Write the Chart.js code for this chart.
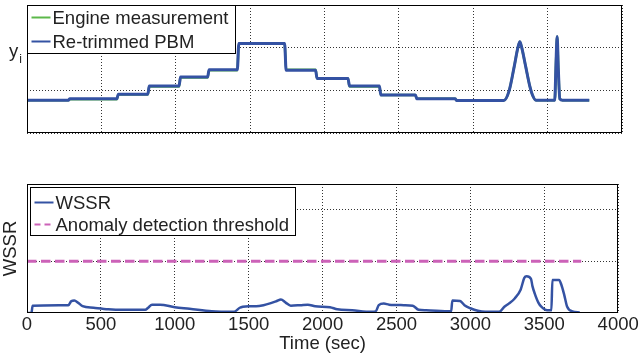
<!DOCTYPE html>
<html>
<head>
<meta charset="utf-8">
<script src="https://cdn.jsdelivr.net/npm/chart.js@4/dist/chart.umd.min.js"></script>
<style>
  html, body { margin: 0; padding: 0; background: #fff; }
  #wrap { position: relative; width: 642px; height: 358px; overflow: hidden; }
  canvas { position: absolute; left: 0; }
  #topChart { top: 0; }
  #bottomChart { top: 170px; }
</style>
</head>
<body>
<div id="wrap">
  <canvas id="topChart" width="642" height="150"></canvas>
  <canvas id="bottomChart" width="642" height="188"></canvas>
</div>
<script>
// time axis ticks (sec)
const timeTicks = [0, 500, 1000, 1500, 2000, 2500, 3000, 3500, 4000];

// top panel: output y_i, steps plus two transients near the end
const outTime = [0, 278, 288, 604, 614, 812, 822, 1022, 1032, 1214, 1224, 1414, 1424, 1732, 1742,
  1940, 1950, 2158, 2168, 2369, 2379, 2611, 2621, 2879, 2889, 3205, 3242, 3275, 3300, 3313, 3326,
  3353, 3380, 3398, 3421, 3548, 3556, 3564, 3572, 3582, 3600, 3780];
const engineValues = [0.77, 0.77, 0.79, 0.79, 0.90, 0.90, 1.09, 1.09, 1.30, 1.30, 1.47, 1.47, 2.10, 2.10,
  1.48, 1.48, 1.28, 1.28, 1.09, 1.09, 0.89, 0.89, 0.80, 0.80, 0.76, 0.76, 1.00, 1.55, 2.00, 2.14, 2.00,
  1.55, 1.10, 0.89, 0.77, 0.77, 1.60, 2.26, 1.50, 0.80, 0.77, 0.77];
const pbmValues = [0.77, 0.77, 0.80, 0.80, 0.91, 0.91, 1.10, 1.10, 1.31, 1.31, 1.48, 1.48, 2.10, 2.10,
  1.47, 1.47, 1.28, 1.28, 1.10, 1.10, 0.89, 0.89, 0.80, 0.80, 0.76, 0.76, 1.00, 1.55, 2.00, 2.14, 2.00,
  1.55, 1.10, 0.89, 0.77, 0.77, 1.60, 2.26, 1.50, 0.80, 0.77, 0.77];

// bottom panel: weighted sum of squared residuals
const wssrTime = [0, 30, 38, 280, 300, 320, 345, 376, 450, 550, 650, 800, 820, 846, 900, 1000, 1100,
  1250, 1400, 1440, 1460, 1500, 1550, 1600, 1650, 1690, 1718, 1750, 1785, 1850, 1900, 1950, 2050,
  2100, 2200, 2330, 2360, 2380, 2414, 2450, 2550, 2610, 2650, 2700, 2870, 2878, 2930, 2960, 3000,
  3050, 3100, 3195, 3230, 3260, 3300, 3340, 3365, 3380, 3410, 3420, 3435, 3460, 3480, 3520, 3548,
  3555, 3600, 3615, 3635, 3655, 3690, 3740];
const wssrValues = [0, 0, 0.14, 0.15, 0.23, 0.24, 0.20, 0.13, 0.10, 0.07, 0.06, 0.06, 0.10, 0.16, 0.16,
  0.11, 0.08, 0.03, 0.02, 0.10, 0.12, 0.13, 0.13, 0.15, 0.19, 0.23, 0.26, 0.20, 0.14, 0.15, 0.16, 0.13,
  0.11, 0.07, 0.05, 0.02, 0.03, 0.15, 0.18, 0.16, 0.15, 0.14, 0.06, 0.05, 0.03, 0.24, 0.23, 0.15, 0.09,
  0.04, 0.02, 0.02, 0.12, 0.18, 0.28, 0.45, 0.68, 0.71, 0.66, 0.52, 0.38, 0.20, 0.12, 0.05, 0.05,
  0.64, 0.64, 0.55, 0.35, 0.12, 0.03, 0.01];
const thresholdTime = [0, 3750];
const thresholdValues = [1, 1];

const FONT = '"Liberation Sans", Arial, Helvetica, sans-serif';
const TEXT = '#222';
Chart.defaults.font.family = FONT;
Chart.defaults.color = TEXT;

const pts = (xs, ys) => xs.map((x, i) => ({ x: x, y: ys[i] }));

// boxed legend in the upper-left corner of the plot, plus the black frame round the plot
const frameLegend = {
  id: 'frameLegend',
  afterDraw(chart, args, opts) {
    const ctx = chart.ctx;
    const a = chart.chartArea;
    ctx.save();
    ctx.strokeStyle = '#000';
    ctx.lineWidth = 1;
    ctx.setLineDash([]);
    ctx.strokeRect(Math.round(a.left) + 0.5, Math.round(a.top) + 0.5,
      Math.round(a.right - a.left) - 1, Math.round(a.bottom - a.top) - 1);

    const bx = Math.round(a.left + opts.dx) + 0.5;
    const by = Math.round(a.top + opts.dy) + 0.5;
    ctx.fillStyle = '#fff';
    ctx.fillRect(bx, by, opts.w, opts.h);
    ctx.strokeRect(bx, by, opts.w, opts.h);

    ctx.font = '18.5px ' + FONT;
    ctx.textBaseline = 'middle';
    ctx.textAlign = 'left';
    chart.data.datasets.forEach((ds, i) => {
      const y = by + opts.rows[i];
      ctx.strokeStyle = ds.borderColor;
      ctx.lineWidth = 2;
      ctx.setLineDash(ds.legendDash || []);
      ctx.beginPath();
      ctx.moveTo(bx + 4, y);
      ctx.lineTo(bx + 23, y);
      ctx.stroke();
      ctx.fillStyle = TEXT;
      ctx.fillText(ds.label, bx + 25, y + 1);
    });
    ctx.restore();
  }
};

// horizontal y-axis label with subscript
const subLabel = {
  id: 'subLabel',
  afterDraw(chart, args, opts) {
    if (!opts.text) return;
    const ctx = chart.ctx;
    ctx.save();
    ctx.fillStyle = TEXT;
    ctx.textBaseline = 'alphabetic';
    ctx.font = '18.5px ' + FONT;
    ctx.fillText(opts.text, opts.x, opts.y);
    const w = ctx.measureText(opts.text).width;
    ctx.font = '12px ' + FONT;
    ctx.fillText(opts.sub, opts.x + w + 1, opts.y + 6);
    ctx.restore();
  }
};

const dotted = { display: false, dash: [1, 2] };
const gridOpts = { color: '#333', lineWidth: 1, drawTicks: false };

new Chart(document.getElementById('topChart'), {
  type: 'line',
  data: {
    datasets: [
      {
        label: 'Engine measurement',
        data: pts(outTime, engineValues),
        borderColor: '#5cb84a',
        borderWidth: 2.5,
        pointRadius: 0,
        order: 2,
        cubicInterpolationMode: 'monotone'
      },
      {
        label: 'Re-trimmed PBM',
        data: pts(outTime, pbmValues),
        borderColor: '#3452a3',
        borderWidth: 3,
        pointRadius: 0,
        order: 1,
        cubicInterpolationMode: 'monotone'
      }
    ]
  },
  options: {
    responsive: false,
    animation: false,
    layout: { padding: { left: 27, right: 20, top: 5, bottom: 17 } },
    plugins: {
      legend: { display: false },
      tooltip: { enabled: false },
      frameLegend: { dx: 0, dy: 0, w: 208, h: 48, rows: [12, 36] },
      subLabel: { text: 'y', sub: 'i', x: 9, y: 57 }
    },
    scales: {
      x: {
        type: 'linear', min: 0, max: 4000,
        afterBuildTicks: (s) => { s.ticks = timeTicks.map(v => ({ value: v })); },
        ticks: { display: false },
        grid: gridOpts,
        border: dotted
      },
      y: {
        min: 0, max: 3,
        ticks: { display: false, stepSize: 1 },
        grid: gridOpts,
        border: dotted
      }
    }
  },
  plugins: [frameLegend, subLabel]
});

new Chart(document.getElementById('bottomChart'), {
  type: 'line',
  data: {
    datasets: [
      {
        label: 'WSSR',
        data: pts(wssrTime, wssrValues),
        borderColor: '#3452a3',
        borderWidth: 2.5,
        pointRadius: 0,
        cubicInterpolationMode: 'monotone'
      },
      {
        label: 'Anomaly detection threshold',
        data: pts(thresholdTime, thresholdValues),
        borderColor: '#cc62b8',
        borderWidth: 3,
        borderDash: [9.5, 4.5],
        legendDash: [6, 4],
        pointRadius: 0
      }
    ]
  },
  options: {
    responsive: false,
    animation: false,
    layout: { padding: { left: 0, right: 20, top: 14, bottom: 9 } },
    plugins: {
      legend: { display: false },
      tooltip: { enabled: false },
      frameLegend: { dx: 3, dy: 2.5, w: 265, h: 48, rows: [15, 37] }
    },
    scales: {
      x: {
        type: 'linear', min: 0, max: 4000,
        afterBuildTicks: (s) => { s.ticks = timeTicks.map(v => ({ value: v })); },
        ticks: {
          padding: 3.25, maxRotation: 0,
          font: { size: 18.5, lineHeight: 1 },
          callback: (v) => String(v)
        },
        grid: gridOpts,
        border: dotted,
        title: {
          display: true, text: 'Time (sec)',
          font: { size: 18.5, lineHeight: 0.6 },
          padding: 0
        }
      },
      y: {
        min: 0, max: 2.5,
        ticks: { display: false, stepSize: 1 },
        grid: gridOpts,
        border: dotted,
        title: {
          display: true, text: 'WSSR',
          font: { size: 18.5, lineHeight: 1.2 },
          padding: { top: 0, bottom: 4.8 }
        }
      }
    }
  },
  plugins: [frameLegend]
});
</script>
</body>
</html>
